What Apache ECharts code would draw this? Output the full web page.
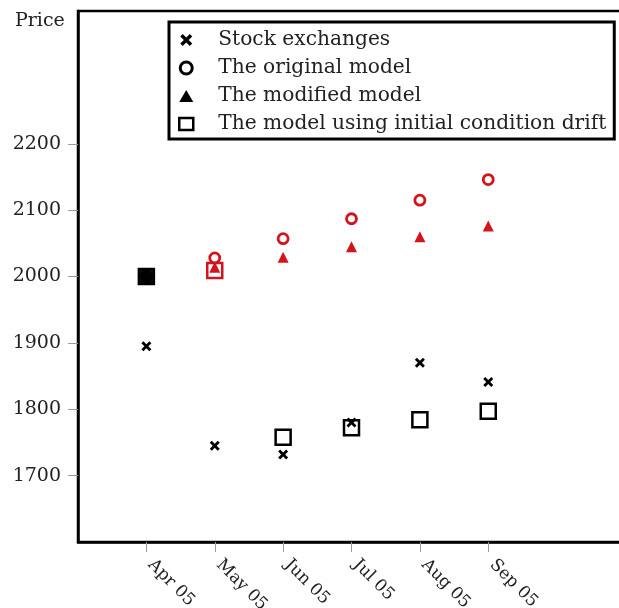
<!DOCTYPE html>
<html>
<head>
<meta charset="utf-8">
<script src="https://cdn.jsdelivr.net/npm/echarts@6/dist/echarts.min.js"></script>
<style>
html,body{margin:0;padding:0;background:#fff;}
#chart{width:619px;height:608px;}
</style>
</head>
<body>
<div id="chart"></div>
<script>
const months = ['Apr 05', 'May 05', 'Jun 05', 'Jul 05', 'Aug 05', 'Sep 05'];
const yTicks = [1700, 1800, 1900, 2000, 2100, 2200];
const stockExchanges = [1895, 1745, 1732, 1780, 1870, 1841];
const originalModel = [2000, 2028, 2057, 2087, 2115, 2146];
const modifiedModel = [2000, 2014, 2029, 2045, 2060, 2076];
const driftModel = [2000, 2009, 1758, 1772, 1784, 1797];

const RED = '#d3141c';
const FONT = 'DejaVu Serif';
const FS = 19;
const crossPath = 'path://M0,2 L2,0 L5,3 L8,0 L10,2 L7,5 L10,8 L8,10 L5,7 L2,10 L0,8 L3,5 Z';

const toPts = (arr, styleFn) => arr.map((v, i) => {
  const p = { value: [i, v] };
  const s = styleFn ? styleFn(i) : null;
  if (s) p.itemStyle = s;
  return p;
});

const chart = echarts.init(document.getElementById('chart'));
chart.setOption({
  animation: false,
  backgroundColor: '#fff',
  grid: {
    left: 78, top: 11, bottom: 66, right: -6,
    outerBoundsMode: 'none', containLabel: false,
    show: true, borderColor: '#000', borderWidth: 2.5, backgroundColor: 'transparent'
  },
  graphic: [{
    type: 'text', left: 15, top: 12,
    style: { text: 'Price', font: FS + 'px "' + FONT + '"', fill: '#222' }
  }],
  legend: {
    orient: 'vertical',
    left: 169, top: 22,
    padding: [6, 8, 3, 9],
    borderColor: '#000', borderWidth: 3,
    backgroundColor: '#fff',
    itemWidth: 14, itemHeight: 12,
    itemGap: 4,
    textStyle: { fontFamily: FONT, fontSize: 20.2, color: '#222', lineHeight: 24, padding: [0, 0, 0, 20] },
    data: [
      { name: 'Stock exchanges', icon: crossPath, itemStyle: { color: '#000', borderWidth: 0 } },
      { name: 'The original model', icon: 'circle', itemStyle: { color: '#fff', borderColor: '#000', borderWidth: 3 } },
      { name: 'The modified model', icon: 'triangle', itemStyle: { color: '#000', borderWidth: 0 } },
      { name: 'The model using initial condition drift', icon: 'rect', itemStyle: { color: '#fff', borderColor: '#000', borderWidth: 2.5 } }
    ]
  },
  xAxis: {
    type: 'value', min: -1, max: 7,
    splitLine: { show: false },
    axisLine: { show: true, onZero: false, lineStyle: { color: '#000', width: 2.5 } },
    axisTick: { show: true, customValues: [0, 1, 2, 3, 4, 5], length: 10, lineStyle: { color: '#999', width: 1 } },
    axisLabel: {
      customValues: [0, 1, 2, 3, 4, 5],
      formatter: v => months[v],
      rotate: -45, margin: 16,
      padding: [0, 0, 0, 6],
      fontFamily: FONT, fontSize: 17, color: '#222'
    }
  },
  yAxis: {
    type: 'value', min: 1600, max: 2400, interval: 100,
    splitLine: { show: false },
    axisLine: { show: true, onZero: false, lineStyle: { color: '#000', width: 2.5 } },
    axisTick: { show: true, customValues: yTicks, length: 10, lineStyle: { color: '#999', width: 1 } },
    axisLabel: {
      customValues: yTicks,
      formatter: v => String(v),
      margin: 17,
      fontFamily: FONT, fontSize: FS, color: '#222'
    }
  },
  series: [
    {
      name: 'The model using initial condition drift', type: 'scatter',
      symbol: 'rect', symbolSize: 15,
      itemStyle: { color: '#fff', borderColor: '#000', borderWidth: 2.5, opacity: 1 },
      data: toPts(driftModel, i => i === 0 ? { color: '#111' } : (i === 1 ? { borderColor: RED, color: '#fff' } : null))
    },
    {
      name: 'Stock exchanges', type: 'scatter',
      symbol: crossPath, symbolSize: 10,
      itemStyle: { color: '#000', opacity: 1 },
      data: toPts(stockExchanges)
    },
    {
      name: 'The original model', type: 'scatter',
      symbol: 'circle', symbolSize: 10,
      itemStyle: { color: '#fff', borderColor: RED, borderWidth: 2.8, opacity: 1 },
      data: toPts(originalModel, i => i === 0 ? { borderColor: '#000', color: '#000' } : null)
    },
    {
      name: 'The modified model', type: 'scatter',
      symbol: 'triangle', symbolSize: 11,
      itemStyle: { color: RED, opacity: 1 },
      data: toPts(modifiedModel, i => i === 0 ? { color: '#000' } : null)
    }
  ]
});
</script>
</body>
</html>
